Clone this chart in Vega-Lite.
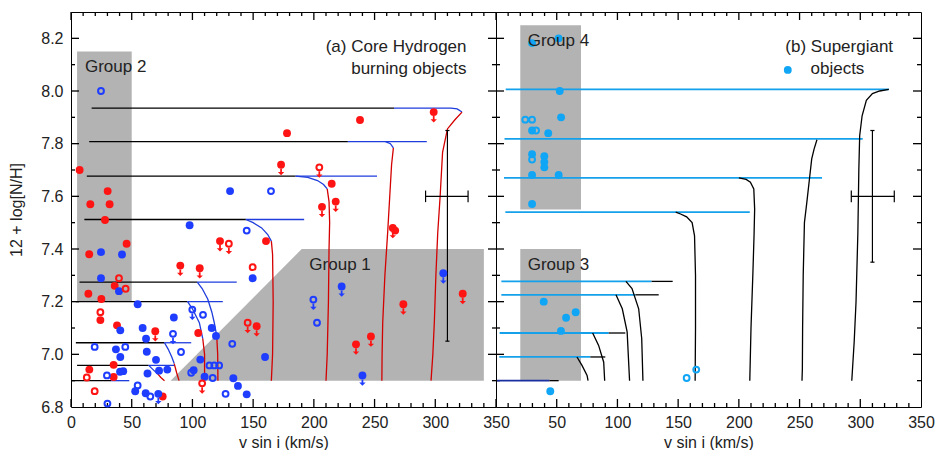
{
  "$schema": "https://vega.github.io/schema/vega-lite/v6.json",
  "padding": {"left": 8, "top": 10, "right": 16, "bottom": 0},
  "spacing": 0,
  "bounds": "flush",
  "config": {
    "view": {"stroke": "#000", "strokeWidth": 1},
    "axis": {"domain": false, "grid": false, "ticks": false, "tickSize": 0, "labelFont": "Liberation Sans", "titleFont": "Liberation Sans", "labelFontSize": 16, "titleFontSize": 16, "labelColor": "#222", "titleColor": "#222", "titleFontWeight": "normal", "labelOverlap": false, "labelFlush": false},
    "text": {"font": "Liberation Sans", "fontSize": 17, "color": "#222"}
  },
  "datasets": {
    "tk": [
      {"x": 0, "x2": 0, "y": 6.8, "y2": 6.8304}, {"x": 10, "x2": 10, "y": 6.8, "y2": 6.8152}, {"x": 20, "x2": 20, "y": 6.8, "y2": 6.8152}, {"x": 30, "x2": 30, "y": 6.8, "y2": 6.8152}, {"x": 40, "x2": 40, "y": 6.8, "y2": 6.8152},
      {"x": 50, "x2": 50, "y": 6.8, "y2": 6.8304}, {"x": 60, "x2": 60, "y": 6.8, "y2": 6.8152}, {"x": 70, "x2": 70, "y": 6.8, "y2": 6.8152}, {"x": 80, "x2": 80, "y": 6.8, "y2": 6.8152}, {"x": 90, "x2": 90, "y": 6.8, "y2": 6.8152},
      {"x": 100, "x2": 100, "y": 6.8, "y2": 6.8304}, {"x": 110, "x2": 110, "y": 6.8, "y2": 6.8152}, {"x": 120, "x2": 120, "y": 6.8, "y2": 6.8152}, {"x": 130, "x2": 130, "y": 6.8, "y2": 6.8152}, {"x": 140, "x2": 140, "y": 6.8, "y2": 6.8152},
      {"x": 150, "x2": 150, "y": 6.8, "y2": 6.8304}, {"x": 160, "x2": 160, "y": 6.8, "y2": 6.8152}, {"x": 170, "x2": 170, "y": 6.8, "y2": 6.8152}, {"x": 180, "x2": 180, "y": 6.8, "y2": 6.8152}, {"x": 190, "x2": 190, "y": 6.8, "y2": 6.8152},
      {"x": 200, "x2": 200, "y": 6.8, "y2": 6.8304}, {"x": 210, "x2": 210, "y": 6.8, "y2": 6.8152}, {"x": 220, "x2": 220, "y": 6.8, "y2": 6.8152}, {"x": 230, "x2": 230, "y": 6.8, "y2": 6.8152}, {"x": 240, "x2": 240, "y": 6.8, "y2": 6.8152},
      {"x": 250, "x2": 250, "y": 6.8, "y2": 6.8304}, {"x": 260, "x2": 260, "y": 6.8, "y2": 6.8152}, {"x": 270, "x2": 270, "y": 6.8, "y2": 6.8152}, {"x": 280, "x2": 280, "y": 6.8, "y2": 6.8152}, {"x": 290, "x2": 290, "y": 6.8, "y2": 6.8152},
      {"x": 300, "x2": 300, "y": 6.8, "y2": 6.8304}, {"x": 310, "x2": 310, "y": 6.8, "y2": 6.8152}, {"x": 320, "x2": 320, "y": 6.8, "y2": 6.8152}, {"x": 330, "x2": 330, "y": 6.8, "y2": 6.8152}, {"x": 340, "x2": 340, "y": 6.8, "y2": 6.8152},
      {"x": 0, "x2": 0, "y": 8.3, "y2": 8.2696}, {"x": 10, "x2": 10, "y": 8.3, "y2": 8.2848}, {"x": 20, "x2": 20, "y": 8.3, "y2": 8.2848}, {"x": 30, "x2": 30, "y": 8.3, "y2": 8.2848}, {"x": 40, "x2": 40, "y": 8.3, "y2": 8.2848},
      {"x": 50, "x2": 50, "y": 8.3, "y2": 8.2696}, {"x": 60, "x2": 60, "y": 8.3, "y2": 8.2848}, {"x": 70, "x2": 70, "y": 8.3, "y2": 8.2848}, {"x": 80, "x2": 80, "y": 8.3, "y2": 8.2848}, {"x": 90, "x2": 90, "y": 8.3, "y2": 8.2848},
      {"x": 100, "x2": 100, "y": 8.3, "y2": 8.2696}, {"x": 110, "x2": 110, "y": 8.3, "y2": 8.2848}, {"x": 120, "x2": 120, "y": 8.3, "y2": 8.2848}, {"x": 130, "x2": 130, "y": 8.3, "y2": 8.2848}, {"x": 140, "x2": 140, "y": 8.3, "y2": 8.2848},
      {"x": 150, "x2": 150, "y": 8.3, "y2": 8.2696}, {"x": 160, "x2": 160, "y": 8.3, "y2": 8.2848}, {"x": 170, "x2": 170, "y": 8.3, "y2": 8.2848}, {"x": 180, "x2": 180, "y": 8.3, "y2": 8.2848}, {"x": 190, "x2": 190, "y": 8.3, "y2": 8.2848},
      {"x": 200, "x2": 200, "y": 8.3, "y2": 8.2696}, {"x": 210, "x2": 210, "y": 8.3, "y2": 8.2848}, {"x": 220, "x2": 220, "y": 8.3, "y2": 8.2848}, {"x": 230, "x2": 230, "y": 8.3, "y2": 8.2848}, {"x": 240, "x2": 240, "y": 8.3, "y2": 8.2848},
      {"x": 250, "x2": 250, "y": 8.3, "y2": 8.2696}, {"x": 260, "x2": 260, "y": 8.3, "y2": 8.2848}, {"x": 270, "x2": 270, "y": 8.3, "y2": 8.2848}, {"x": 280, "x2": 280, "y": 8.3, "y2": 8.2848}, {"x": 290, "x2": 290, "y": 8.3, "y2": 8.2848},
      {"x": 300, "x2": 300, "y": 8.3, "y2": 8.2696}, {"x": 310, "x2": 310, "y": 8.3, "y2": 8.2848}, {"x": 320, "x2": 320, "y": 8.3, "y2": 8.2848}, {"x": 330, "x2": 330, "y": 8.3, "y2": 8.2848}, {"x": 340, "x2": 340, "y": 8.3, "y2": 8.2848},
      {"x": 0, "x2": 3.3, "y": 6.9, "y2": 6.9}, {"x": 0, "x2": 6.6, "y": 7.0, "y2": 7.0}, {"x": 0, "x2": 3.3, "y": 7.1, "y2": 7.1}, {"x": 0, "x2": 6.6, "y": 7.2, "y2": 7.2}, {"x": 0, "x2": 3.3, "y": 7.3, "y2": 7.3}, {"x": 0, "x2": 6.6, "y": 7.4, "y2": 7.4}, {"x": 0, "x2": 3.3, "y": 7.5, "y2": 7.5}, {"x": 0, "x2": 6.6, "y": 7.6, "y2": 7.6}, {"x": 0, "x2": 3.3, "y": 7.7, "y2": 7.7}, {"x": 0, "x2": 6.6, "y": 7.8, "y2": 7.8}, {"x": 0, "x2": 3.3, "y": 7.9, "y2": 7.9}, {"x": 0, "x2": 6.6, "y": 8.0, "y2": 8.0}, {"x": 0, "x2": 3.3, "y": 8.1, "y2": 8.1}, {"x": 0, "x2": 6.6, "y": 8.2, "y2": 8.2},
      {"x": 350, "x2": 346.7, "y": 6.9, "y2": 6.9}, {"x": 350, "x2": 343.4, "y": 7.0, "y2": 7.0}, {"x": 350, "x2": 346.7, "y": 7.1, "y2": 7.1}, {"x": 350, "x2": 343.4, "y": 7.2, "y2": 7.2}, {"x": 350, "x2": 346.7, "y": 7.3, "y2": 7.3}, {"x": 350, "x2": 343.4, "y": 7.4, "y2": 7.4}, {"x": 350, "x2": 346.7, "y": 7.5, "y2": 7.5}, {"x": 350, "x2": 343.4, "y": 7.6, "y2": 7.6}, {"x": 350, "x2": 346.7, "y": 7.7, "y2": 7.7}, {"x": 350, "x2": 343.4, "y": 7.8, "y2": 7.8}, {"x": 350, "x2": 346.7, "y": 7.9, "y2": 7.9}, {"x": 350, "x2": 343.4, "y": 8.0, "y2": 8.0}, {"x": 350, "x2": 346.7, "y": 8.1, "y2": 8.1}, {"x": 350, "x2": 343.4, "y": 8.2, "y2": 8.2}
    ],
    "g2": [{"x1": 5, "x2": 50, "y1": 7.2, "y2": 8.15}],
    "g1": [{"x": 82, "y": 6.9, "y0": 6.9}, {"x": 190, "y": 7.4, "y0": 6.9}, {"x": 340, "y": 7.4, "y0": 6.9}],
    "g34": [{"x1": 20, "x2": 70, "y1": 7.55, "y2": 8.25}, {"x1": 20, "x2": 70, "y1": 6.9, "y2": 7.4}],
    "errL": [
      {"x": 310, "x2": 310, "y": 7.05, "y2": 7.85}, {"x": 292, "x2": 327, "y": 7.6, "y2": 7.6},
      {"x": 292, "x2": 292, "y": 7.578, "y2": 7.622}, {"x": 327, "x2": 327, "y": 7.578, "y2": 7.622},
      {"x": 308.3, "x2": 311.7, "y": 7.85, "y2": 7.85}, {"x": 308.3, "x2": 311.7, "y": 7.05, "y2": 7.05}
    ],
    "errR": [
      {"x": 310, "x2": 310, "y": 7.35, "y2": 7.85}, {"x": 292.6, "x2": 328, "y": 7.6, "y2": 7.6},
      {"x": 292.6, "x2": 292.6, "y": 7.578, "y2": 7.622}, {"x": 328, "x2": 328, "y": 7.578, "y2": 7.622},
      {"x": 308.3, "x2": 311.7, "y": 7.85, "y2": 7.85}, {"x": 308.3, "x2": 311.7, "y": 7.35, "y2": 7.35}
    ],
    "trL": [
      {"s": "A1", "k": "k", "i": 0, "x": 17, "y": 7.935}, {"s": "A1", "k": "k", "i": 1, "x": 266, "y": 7.935},
      {"s": "A2", "k": "b", "i": 0, "x": 266, "y": 7.935}, {"s": "A2", "k": "b", "i": 1, "x": 313, "y": 7.935}, {"s": "A2", "k": "b", "i": 2, "x": 318, "y": 7.932}, {"s": "A2", "k": "b", "i": 3, "x": 322, "y": 7.92},
      {"s": "A3", "k": "r", "i": 0, "x": 322, "y": 7.92}, {"s": "A3", "k": "r", "i": 1, "x": 316, "y": 7.89}, {"s": "A3", "k": "r", "i": 2, "x": 310, "y": 7.856}, {"s": "A3", "k": "r", "i": 3, "x": 306, "y": 7.767}, {"s": "A3", "k": "r", "i": 4, "x": 304, "y": 7.6}, {"s": "A3", "k": "r", "i": 5, "x": 302, "y": 7.46}, {"s": "A3", "k": "r", "i": 6, "x": 300.5, "y": 7.3}, {"s": "A3", "k": "r", "i": 7, "x": 299.2, "y": 7.12}, {"s": "A3", "k": "r", "i": 8, "x": 298, "y": 7.0}, {"s": "A3", "k": "r", "i": 9, "x": 296.5, "y": 6.9},
      {"s": "B1", "k": "k", "i": 0, "x": 15, "y": 7.808}, {"s": "B1", "k": "k", "i": 1, "x": 228, "y": 7.808},
      {"s": "B2", "k": "b", "i": 0, "x": 228, "y": 7.808}, {"s": "B2", "k": "b", "i": 1, "x": 293, "y": 7.808},
      {"s": "B3", "k": "b", "i": 0, "x": 259, "y": 7.808}, {"s": "B3", "k": "b", "i": 1, "x": 263, "y": 7.8}, {"s": "B3", "k": "b", "i": 2, "x": 265.5, "y": 7.784},
      {"s": "B4", "k": "r", "i": 0, "x": 265.5, "y": 7.784}, {"s": "B4", "k": "r", "i": 1, "x": 264, "y": 7.72}, {"s": "B4", "k": "r", "i": 2, "x": 262.5, "y": 7.6}, {"s": "B4", "k": "r", "i": 3, "x": 260.8, "y": 7.464}, {"s": "B4", "k": "r", "i": 4, "x": 258.5, "y": 7.3}, {"s": "B4", "k": "r", "i": 5, "x": 256.7, "y": 7.12}, {"s": "B4", "k": "r", "i": 6, "x": 256.2, "y": 7.0}, {"s": "B4", "k": "r", "i": 7, "x": 256, "y": 6.9},
      {"s": "C1", "k": "k", "i": 0, "x": 13, "y": 7.677}, {"s": "C1", "k": "k", "i": 1, "x": 185, "y": 7.677},
      {"s": "C2", "k": "b", "i": 0, "x": 185, "y": 7.677}, {"s": "C2", "k": "b", "i": 1, "x": 252, "y": 7.677},
      {"s": "C3", "k": "b", "i": 0, "x": 185, "y": 7.677}, {"s": "C3", "k": "b", "i": 1, "x": 195, "y": 7.672}, {"s": "C3", "k": "b", "i": 2, "x": 203, "y": 7.66}, {"s": "C3", "k": "b", "i": 3, "x": 208, "y": 7.645}, {"s": "C3", "k": "b", "i": 4, "x": 211, "y": 7.628},
      {"s": "C4", "k": "r", "i": 0, "x": 211, "y": 7.628}, {"s": "C4", "k": "r", "i": 1, "x": 212.5, "y": 7.58}, {"s": "C4", "k": "r", "i": 2, "x": 213, "y": 7.5}, {"s": "C4", "k": "r", "i": 3, "x": 212.5, "y": 7.4}, {"s": "C4", "k": "r", "i": 4, "x": 212, "y": 7.2}, {"s": "C4", "k": "r", "i": 5, "x": 211, "y": 7.0}, {"s": "C4", "k": "r", "i": 6, "x": 210, "y": 6.9},
      {"s": "D1", "k": "k", "i": 0, "x": 11, "y": 7.512}, {"s": "D1", "k": "k", "i": 1, "x": 144, "y": 7.512},
      {"s": "D2", "k": "b", "i": 0, "x": 144, "y": 7.512}, {"s": "D2", "k": "b", "i": 1, "x": 192, "y": 7.512},
      {"s": "D3", "k": "b", "i": 0, "x": 144, "y": 7.512}, {"s": "D3", "k": "b", "i": 1, "x": 150, "y": 7.5}, {"s": "D3", "k": "b", "i": 2, "x": 157, "y": 7.48}, {"s": "D3", "k": "b", "i": 3, "x": 162, "y": 7.455}, {"s": "D3", "k": "b", "i": 4, "x": 165, "y": 7.43},
      {"s": "D4", "k": "r", "i": 0, "x": 165, "y": 7.43}, {"s": "D4", "k": "r", "i": 1, "x": 166, "y": 7.38}, {"s": "D4", "k": "r", "i": 2, "x": 166.5, "y": 7.2}, {"s": "D4", "k": "r", "i": 3, "x": 166, "y": 7.0}, {"s": "D4", "k": "r", "i": 4, "x": 165, "y": 6.9},
      {"s": "E1", "k": "k", "i": 0, "x": 7, "y": 7.274}, {"s": "E1", "k": "k", "i": 1, "x": 104, "y": 7.274},
      {"s": "E2", "k": "b", "i": 0, "x": 104, "y": 7.274}, {"s": "E2", "k": "b", "i": 1, "x": 136.5, "y": 7.274},
      {"s": "E3", "k": "b", "i": 0, "x": 104, "y": 7.274}, {"s": "E3", "k": "b", "i": 1, "x": 108, "y": 7.25}, {"s": "E3", "k": "b", "i": 2, "x": 112.6, "y": 7.21}, {"s": "E3", "k": "b", "i": 3, "x": 116, "y": 7.16}, {"s": "E3", "k": "b", "i": 4, "x": 118, "y": 7.12}, {"s": "E3", "k": "b", "i": 5, "x": 120, "y": 7.07},
      {"s": "E4", "k": "r", "i": 0, "x": 120, "y": 7.07}, {"s": "E4", "k": "r", "i": 1, "x": 120.8, "y": 7.0}, {"s": "E4", "k": "r", "i": 2, "x": 121, "y": 6.9},
      {"s": "F1", "k": "k", "i": 0, "x": 4, "y": 7.2}, {"s": "F1", "k": "k", "i": 1, "x": 96, "y": 7.2},
      {"s": "F2", "k": "b", "i": 0, "x": 96, "y": 7.2}, {"s": "F2", "k": "b", "i": 1, "x": 125, "y": 7.2},
      {"s": "F3", "k": "b", "i": 0, "x": 96, "y": 7.2}, {"s": "F3", "k": "b", "i": 1, "x": 100, "y": 7.173}, {"s": "F3", "k": "b", "i": 2, "x": 105.7, "y": 7.12}, {"s": "F3", "k": "b", "i": 3, "x": 108.5, "y": 7.06},
      {"s": "F4", "k": "r", "i": 0, "x": 108.5, "y": 7.06}, {"s": "F4", "k": "r", "i": 1, "x": 110, "y": 7.0}, {"s": "F4", "k": "r", "i": 2, "x": 110, "y": 6.9},
      {"s": "G1", "k": "k", "i": 0, "x": 4, "y": 7.044}, {"s": "G1", "k": "k", "i": 1, "x": 77, "y": 7.044},
      {"s": "G2", "k": "b", "i": 0, "x": 77, "y": 7.044}, {"s": "G2", "k": "b", "i": 1, "x": 99, "y": 7.044},
      {"s": "G3", "k": "b", "i": 0, "x": 77, "y": 7.044}, {"s": "G3", "k": "b", "i": 1, "x": 80, "y": 7.02}, {"s": "G3", "k": "b", "i": 2, "x": 83, "y": 6.99}, {"s": "G3", "k": "b", "i": 3, "x": 85, "y": 6.965},
      {"s": "G4", "k": "r", "i": 0, "x": 85, "y": 6.965}, {"s": "G4", "k": "r", "i": 1, "x": 87, "y": 6.93}, {"s": "G4", "k": "r", "i": 2, "x": 89, "y": 6.9},
      {"s": "H1", "k": "k", "i": 0, "x": 5, "y": 6.958}, {"s": "H1", "k": "k", "i": 1, "x": 64, "y": 6.958},
      {"s": "H2", "k": "b", "i": 0, "x": 64, "y": 6.958}, {"s": "H2", "k": "b", "i": 1, "x": 85, "y": 6.958},
      {"s": "H3", "k": "b", "i": 0, "x": 64, "y": 6.958}, {"s": "H3", "k": "b", "i": 1, "x": 68, "y": 6.94}, {"s": "H3", "k": "b", "i": 2, "x": 71.4, "y": 6.926},
      {"s": "H4", "k": "r", "i": 0, "x": 71.4, "y": 6.926}, {"s": "H4", "k": "r", "i": 1, "x": 74, "y": 6.912}, {"s": "H4", "k": "r", "i": 2, "x": 77, "y": 6.9},
      {"s": "I1", "k": "k", "i": 0, "x": 0, "y": 6.9}, {"s": "I1", "k": "k", "i": 1, "x": 33, "y": 6.9},
      {"s": "I2", "k": "b", "i": 0, "x": 33, "y": 6.9}, {"s": "I2", "k": "b", "i": 1, "x": 48, "y": 6.9}
    ],
    "trR": [
      {"s": "R1", "k": "c", "i": 0, "x": 8, "y": 8.006}, {"s": "R1", "k": "c", "i": 1, "x": 323.5, "y": 8.006},
      {"s": "R1k", "k": "k", "i": 0, "x": 323.5, "y": 8.006}, {"s": "R1k", "k": "k", "i": 1, "x": 316, "y": 8.0}, {"s": "R1k", "k": "k", "i": 2, "x": 310, "y": 7.99}, {"s": "R1k", "k": "k", "i": 3, "x": 305, "y": 7.965}, {"s": "R1k", "k": "k", "i": 4, "x": 301.5, "y": 7.906}, {"s": "R1k", "k": "k", "i": 5, "x": 299.5, "y": 7.83}, {"s": "R1k", "k": "k", "i": 6, "x": 298.8, "y": 7.7}, {"s": "R1k", "k": "k", "i": 7, "x": 298, "y": 7.46}, {"s": "R1k", "k": "k", "i": 8, "x": 296.5, "y": 7.2}, {"s": "R1k", "k": "k", "i": 9, "x": 295, "y": 7.05}, {"s": "R1k", "k": "k", "i": 10, "x": 293, "y": 6.9},
      {"s": "R2", "k": "c", "i": 0, "x": 7, "y": 7.818}, {"s": "R2", "k": "c", "i": 1, "x": 302, "y": 7.818},
      {"s": "R2k", "k": "k", "i": 0, "x": 264.3, "y": 7.815}, {"s": "R2k", "k": "k", "i": 1, "x": 262, "y": 7.78}, {"s": "R2k", "k": "k", "i": 2, "x": 260, "y": 7.742}, {"s": "R2k", "k": "k", "i": 3, "x": 258, "y": 7.66}, {"s": "R2k", "k": "k", "i": 4, "x": 256, "y": 7.578}, {"s": "R2k", "k": "k", "i": 5, "x": 254, "y": 7.5}, {"s": "R2k", "k": "k", "i": 6, "x": 253, "y": 7.3}, {"s": "R2k", "k": "k", "i": 7, "x": 252.5, "y": 7.1}, {"s": "R2k", "k": "k", "i": 8, "x": 252.3, "y": 6.945}, {"s": "R2k", "k": "k", "i": 9, "x": 252, "y": 6.9},
      {"s": "R3", "k": "c", "i": 0, "x": 6.6, "y": 7.67}, {"s": "R3", "k": "c", "i": 1, "x": 268.5, "y": 7.67},
      {"s": "R3k", "k": "k", "i": 0, "x": 200, "y": 7.67}, {"s": "R3k", "k": "k", "i": 1, "x": 206, "y": 7.664}, {"s": "R3k", "k": "k", "i": 2, "x": 209.5, "y": 7.654}, {"s": "R3k", "k": "k", "i": 3, "x": 212.3, "y": 7.628}, {"s": "R3k", "k": "k", "i": 4, "x": 213, "y": 7.552}, {"s": "R3k", "k": "k", "i": 5, "x": 212.5, "y": 7.45}, {"s": "R3k", "k": "k", "i": 6, "x": 211.5, "y": 7.3}, {"s": "R3k", "k": "k", "i": 7, "x": 210, "y": 7.1}, {"s": "R3k", "k": "k", "i": 8, "x": 209, "y": 6.9},
      {"s": "R4", "k": "c", "i": 0, "x": 7.7, "y": 7.54}, {"s": "R4", "k": "c", "i": 1, "x": 209, "y": 7.54},
      {"s": "R4k", "k": "k", "i": 0, "x": 148, "y": 7.54}, {"s": "R4k", "k": "k", "i": 1, "x": 152, "y": 7.533}, {"s": "R4k", "k": "k", "i": 2, "x": 157, "y": 7.522}, {"s": "R4k", "k": "k", "i": 3, "x": 161.5, "y": 7.5}, {"s": "R4k", "k": "k", "i": 4, "x": 163.5, "y": 7.45}, {"s": "R4k", "k": "k", "i": 5, "x": 164.3, "y": 7.3}, {"s": "R4k", "k": "k", "i": 6, "x": 164.3, "y": 7.1}, {"s": "R4k", "k": "k", "i": 7, "x": 164, "y": 6.9},
      {"s": "S1", "k": "c", "i": 0, "x": 4.4, "y": 7.277}, {"s": "S1", "k": "c", "i": 1, "x": 128.1, "y": 7.277},
      {"s": "S1b", "k": "k", "i": 0, "x": 128.1, "y": 7.277}, {"s": "S1b", "k": "k", "i": 1, "x": 145.5, "y": 7.277},
      {"s": "S1k", "k": "k", "i": 0, "x": 107, "y": 7.277}, {"s": "S1k", "k": "k", "i": 1, "x": 112, "y": 7.25}, {"s": "S1k", "k": "k", "i": 2, "x": 117.5, "y": 7.173}, {"s": "S1k", "k": "k", "i": 3, "x": 120, "y": 7.06}, {"s": "S1k", "k": "k", "i": 4, "x": 121, "y": 6.9},
      {"s": "S2", "k": "c", "i": 0, "x": 4.4, "y": 7.226}, {"s": "S2", "k": "c", "i": 1, "x": 114.8, "y": 7.226},
      {"s": "S2b", "k": "k", "i": 0, "x": 114.8, "y": 7.226}, {"s": "S2b", "k": "k", "i": 1, "x": 134, "y": 7.226},
      {"s": "S2k", "k": "k", "i": 0, "x": 98.8, "y": 7.226}, {"s": "S2k", "k": "k", "i": 1, "x": 104, "y": 7.173}, {"s": "S2k", "k": "k", "i": 2, "x": 108, "y": 7.085}, {"s": "S2k", "k": "k", "i": 3, "x": 110, "y": 6.9},
      {"s": "S3", "k": "c", "i": 0, "x": 3, "y": 7.081}, {"s": "S3", "k": "c", "i": 1, "x": 92.8, "y": 7.081},
      {"s": "S3b", "k": "k", "i": 0, "x": 92.8, "y": 7.081}, {"s": "S3b", "k": "k", "i": 1, "x": 106.5, "y": 7.081},
      {"s": "S3k", "k": "k", "i": 0, "x": 79.6, "y": 7.081}, {"s": "S3k", "k": "k", "i": 1, "x": 84.5, "y": 7.034}, {"s": "S3k", "k": "k", "i": 2, "x": 88.7, "y": 6.97}, {"s": "S3k", "k": "k", "i": 3, "x": 89.5, "y": 6.9},
      {"s": "S4", "k": "c", "i": 0, "x": 2.7, "y": 6.99}, {"s": "S4", "k": "c", "i": 1, "x": 77.7, "y": 6.99},
      {"s": "S4b", "k": "k", "i": 0, "x": 77.7, "y": 6.99}, {"s": "S4b", "k": "k", "i": 1, "x": 90, "y": 6.99},
      {"s": "S4k", "k": "k", "i": 0, "x": 66.7, "y": 6.99}, {"s": "S4k", "k": "k", "i": 1, "x": 70.8, "y": 6.958}, {"s": "S4k", "k": "k", "i": 2, "x": 75, "y": 6.92}, {"s": "S4k", "k": "k", "i": 3, "x": 75.8, "y": 6.9},
      {"s": "S5", "k": "n", "i": 0, "x": 0.8, "y": 6.9}, {"s": "S5", "k": "n", "i": 1, "x": 44, "y": 6.9},
      {"s": "S5b", "k": "k", "i": 0, "x": 44, "y": 6.9}, {"s": "S5b", "k": "k", "i": 1, "x": 51.6, "y": 6.9}
    ],
    "ptsL": [
      {"x": 7.1, "y": 7.7, "c": "r", "f": 1, "l": 0}, {"x": 30.2, "y": 7.62, "c": "r", "f": 1, "l": 0}, {"x": 15.9, "y": 7.57, "c": "r", "f": 1, "l": 0}, {"x": 31.8, "y": 7.57, "c": "r", "f": 1, "l": 0}, {"x": 28, "y": 7.51, "c": "r", "f": 1, "l": 0}, {"x": 45.8, "y": 7.42, "c": "r", "f": 1, "l": 0}, {"x": 15, "y": 7.38, "c": "r", "f": 1, "l": 0}, {"x": 36, "y": 7.26, "c": "r", "f": 1, "l": 0}, {"x": 14.3, "y": 7.23, "c": "r", "f": 1, "l": 0}, {"x": 25, "y": 7.21, "c": "r", "f": 1, "l": 0}, {"x": 24.2, "y": 7.13, "c": "r", "f": 1, "l": 0}, {"x": 37.9, "y": 7.11, "c": "r", "f": 1, "l": 0}, {"x": 35.1, "y": 6.96, "c": "r", "f": 1, "l": 0}, {"x": 15.1, "y": 6.942, "c": "r", "f": 1, "l": 0}, {"x": 35.1, "y": 6.914, "c": "r", "f": 1, "l": 0}, {"x": 75.5, "y": 6.84, "c": "r", "f": 1, "l": 0}, {"x": 104.8, "y": 7.081, "c": "r", "f": 1, "l": 0}, {"x": 214.7, "y": 7.648, "c": "r", "f": 1, "l": 0}, {"x": 160.6, "y": 7.43, "c": "r", "f": 1, "l": 0}, {"x": 238, "y": 7.89, "c": "r", "f": 1, "l": 0}, {"x": 177.9, "y": 7.84, "c": "r", "f": 1, "l": 0}, {"x": 267, "y": 7.47, "c": "r", "f": 1, "l": 0},
      {"x": 90, "y": 7.337, "c": "r", "f": 1, "l": 1}, {"x": 106, "y": 7.327, "c": "r", "f": 1, "l": 1}, {"x": 122.7, "y": 7.43, "c": "r", "f": 1, "l": 1}, {"x": 69.4, "y": 7.088, "c": "r", "f": 1, "l": 1}, {"x": 298.7, "y": 7.92, "c": "r", "f": 1, "l": 1}, {"x": 173, "y": 7.72, "c": "r", "f": 1, "l": 1}, {"x": 206.7, "y": 7.56, "c": "r", "f": 1, "l": 1}, {"x": 218, "y": 7.58, "c": "r", "f": 1, "l": 1}, {"x": 152.9, "y": 7.107, "c": "r", "f": 1, "l": 1}, {"x": 265, "y": 7.48, "c": "r", "f": 1, "l": 1}, {"x": 273.7, "y": 7.19, "c": "r", "f": 1, "l": 1}, {"x": 234.7, "y": 7.038, "c": "r", "f": 1, "l": 1}, {"x": 247, "y": 7.068, "c": "r", "f": 1, "l": 1}, {"x": 322.6, "y": 7.23, "c": "r", "f": 1, "l": 1},
      {"x": 39.5, "y": 7.289, "c": "r", "f": 0, "l": 0}, {"x": 45, "y": 7.249, "c": "r", "f": 0, "l": 0}, {"x": 24.2, "y": 7.16, "c": "r", "f": 0, "l": 0}, {"x": 13, "y": 6.912, "c": "r", "f": 0, "l": 0}, {"x": 19.5, "y": 6.86, "c": "r", "f": 0, "l": 0}, {"x": 149.6, "y": 7.331, "c": "r", "f": 0, "l": 0},
      {"x": 130, "y": 7.42, "c": "r", "f": 0, "l": 1}, {"x": 204.5, "y": 7.71, "c": "r", "f": 0, "l": 1}, {"x": 145.5, "y": 7.12, "c": "r", "f": 0, "l": 1}, {"x": 108, "y": 6.89, "c": "r", "f": 0, "l": 1},
      {"x": 131, "y": 7.62, "c": "b", "f": 1, "l": 0}, {"x": 97.7, "y": 7.49, "c": "b", "f": 1, "l": 0}, {"x": 24.7, "y": 7.388, "c": "b", "f": 1, "l": 0}, {"x": 42, "y": 7.379, "c": "b", "f": 1, "l": 0}, {"x": 24.7, "y": 7.289, "c": "b", "f": 1, "l": 0}, {"x": 39.5, "y": 7.24, "c": "b", "f": 1, "l": 0}, {"x": 54.9, "y": 7.19, "c": "b", "f": 1, "l": 0}, {"x": 84.7, "y": 7.14, "c": "b", "f": 1, "l": 0}, {"x": 40.6, "y": 7.091, "c": "b", "f": 1, "l": 0}, {"x": 59, "y": 7.1, "c": "b", "f": 1, "l": 0}, {"x": 61.8, "y": 7.059, "c": "b", "f": 1, "l": 0}, {"x": 37, "y": 7.019, "c": "b", "f": 1, "l": 0}, {"x": 40.6, "y": 6.99, "c": "b", "f": 1, "l": 0}, {"x": 62.4, "y": 7.01, "c": "b", "f": 1, "l": 0}, {"x": 70, "y": 6.979, "c": "b", "f": 1, "l": 0}, {"x": 40.4, "y": 6.934, "c": "b", "f": 1, "l": 0}, {"x": 43, "y": 6.936, "c": "b", "f": 1, "l": 0}, {"x": 63, "y": 6.927, "c": "b", "f": 1, "l": 0}, {"x": 72.5, "y": 6.938, "c": "b", "f": 1, "l": 0}, {"x": 79.3, "y": 6.942, "c": "b", "f": 1, "l": 0}, {"x": 52.9, "y": 6.86, "c": "b", "f": 1, "l": 0}, {"x": 61.5, "y": 6.852, "c": "b", "f": 1, "l": 0}, {"x": 137.5, "y": 6.88, "c": "b", "f": 1, "l": 0}, {"x": 133.7, "y": 6.909, "c": "b", "f": 1, "l": 0}, {"x": 106.5, "y": 6.98, "c": "b", "f": 1, "l": 0}, {"x": 101, "y": 6.94, "c": "b", "f": 1, "l": 0}, {"x": 110, "y": 6.915, "c": "b", "f": 1, "l": 0}, {"x": 115.9, "y": 7.1, "c": "b", "f": 1, "l": 0}, {"x": 119.4, "y": 7.07, "c": "b", "f": 1, "l": 0}, {"x": 149.6, "y": 7.289, "c": "b", "f": 1, "l": 0}, {"x": 159.8, "y": 6.99, "c": "b", "f": 1, "l": 0}, {"x": 144.7, "y": 6.848, "c": "b", "f": 1, "l": 0},
      {"x": 71.9, "y": 6.85, "c": "b", "f": 1, "l": 1}, {"x": 222.9, "y": 7.258, "c": "b", "f": 1, "l": 1}, {"x": 240, "y": 6.92, "c": "b", "f": 1, "l": 1}, {"x": 306.6, "y": 7.308, "c": "b", "f": 1, "l": 1},
      {"x": 24.7, "y": 8.0, "c": "b", "f": 0, "l": 0}, {"x": 164.7, "y": 7.62, "c": "b", "f": 0, "l": 0}, {"x": 144.7, "y": 7.47, "c": "b", "f": 0, "l": 0}, {"x": 19.5, "y": 7.028, "c": "b", "f": 0, "l": 0}, {"x": 44.7, "y": 7.028, "c": "b", "f": 0, "l": 0}, {"x": 90.6, "y": 7.009, "c": "b", "f": 0, "l": 0}, {"x": 29.6, "y": 6.92, "c": "b", "f": 0, "l": 0}, {"x": 54.9, "y": 6.882, "c": "b", "f": 0, "l": 0}, {"x": 65.3, "y": 6.84, "c": "b", "f": 0, "l": 0}, {"x": 30, "y": 6.813, "c": "b", "f": 0, "l": 0}, {"x": 127.3, "y": 6.85, "c": "b", "f": 0, "l": 0}, {"x": 108.7, "y": 7.15, "c": "b", "f": 0, "l": 0}, {"x": 132.8, "y": 7.04, "c": "b", "f": 0, "l": 0}, {"x": 202.6, "y": 7.12, "c": "b", "f": 0, "l": 0}, {"x": 114, "y": 6.958, "c": "b", "f": 0, "l": 0}, {"x": 118, "y": 6.958, "c": "b", "f": 0, "l": 0}, {"x": 122, "y": 6.958, "c": "b", "f": 0, "l": 0}, {"x": 116.7, "y": 6.91, "c": "b", "f": 0, "l": 0}, {"x": 99, "y": 6.93, "c": "b", "f": 0, "l": 0},
      {"x": 84, "y": 7.078, "c": "b", "f": 0, "l": 1}, {"x": 99.9, "y": 7.17, "c": "b", "f": 0, "l": 1}, {"x": 199.6, "y": 7.208, "c": "b", "f": 0, "l": 1}
    ],
    "ptsR": [
      {"x": 51.6, "y": 8.2, "c": "c", "f": 1}, {"x": 29.7, "y": 8.182, "c": "c", "f": 1}, {"x": 52.5, "y": 8.0, "c": "c", "f": 1}, {"x": 53.6, "y": 7.9, "c": "c", "f": 1}, {"x": 29.7, "y": 7.85, "c": "c", "f": 1}, {"x": 43, "y": 7.84, "c": "c", "f": 1}, {"x": 29.7, "y": 7.76, "c": "c", "f": 1}, {"x": 39.8, "y": 7.752, "c": "c", "f": 1}, {"x": 39.8, "y": 7.73, "c": "c", "f": 1}, {"x": 39.8, "y": 7.71, "c": "c", "f": 1}, {"x": 29.7, "y": 7.681, "c": "c", "f": 1}, {"x": 51.6, "y": 7.681, "c": "c", "f": 1}, {"x": 29.7, "y": 7.571, "c": "c", "f": 1}, {"x": 39.3, "y": 7.2, "c": "c", "f": 1}, {"x": 57.7, "y": 7.139, "c": "c", "f": 1}, {"x": 65.6, "y": 7.16, "c": "c", "f": 1}, {"x": 53.5, "y": 7.089, "c": "c", "f": 1}, {"x": 44.7, "y": 6.86, "c": "c", "f": 1},
      {"x": 24.1, "y": 7.891, "c": "c", "f": 0}, {"x": 29.7, "y": 7.891, "c": "c", "f": 0}, {"x": 33, "y": 7.85, "c": "c", "f": 0}, {"x": 29.7, "y": 7.74, "c": "c", "f": 0}, {"x": 157, "y": 6.91, "c": "c", "f": 0}, {"x": 164.9, "y": 6.942, "c": "c", "f": 0}
    ],
    "txtLr": [{"x": 325.7, "y": 8.166, "t": "(a) Core Hydrogen"}, {"x": 325.7, "y": 8.083, "t": "burning objects"}],
    "txtLl": [{"x": 11.5, "y": 8.093, "t": "Group 2"}, {"x": 196.3, "y": 7.34, "t": "Group 1"}],
    "txtR": [{"x": 26.1, "y": 8.19, "t": "Group 4"}, {"x": 26.1, "y": 7.34, "t": "Group 3"}, {"x": 238.3, "y": 8.166, "t": "(b) Supergiant"}, {"x": 259, "y": 8.083, "t": "objects"}],
    "legR": [{"x": 240.3, "y": 8.08, "c": "c"}]
  },
  "hconcat": [
    {
      "width": 425,
      "height": 395,
      "layer": [
        {
          "data": {"name": "g2"},
          "mark": {"type": "rect", "color": "#b3b3b3"},
          "encoding": {
            "x": {"field": "x1", "type": "quantitative", "scale": {"domain": [0, 350], "nice": false, "zero": false},
              "axis": {"orient": "bottom", "values": [0, 50, 100, 150, 200, 250, 300, 350], "format": "d", "labelPadding": 7.5, "title": "v sin i (km/s)", "titlePadding": 4}},
            "x2": {"field": "x2"},
            "y": {"field": "y1", "type": "quantitative", "scale": {"domain": [6.8, 8.3], "nice": false, "zero": false},
              "axis": {"orient": "left", "values": [6.8, 7.0, 7.2, 7.4, 7.6, 7.8, 8.0, 8.2], "format": ".1f", "labelPadding": 8, "title": "12 + log[N/H]", "titlePadding": 16}},
            "y2": {"field": "y2"}
          }
        },
        {
          "data": {"name": "g1"},
          "mark": {"type": "area", "color": "#b3b3b3", "opacity": 1},
          "encoding": {
            "x": {"field": "x", "type": "quantitative", "scale": {"domain": [0, 350], "nice": false, "zero": false}, "axis": null},
            "y": {"field": "y", "type": "quantitative", "scale": {"domain": [6.8, 8.3], "nice": false, "zero": false}, "axis": null},
            "y2": {"field": "y0"}
          }
        },
        {
          "mark": {"type": "rule", "color": "#000", "strokeDash": [1.5, 4.5], "strokeWidth": 1.2},
          "encoding": {"y": {"datum": 6.9, "type": "quantitative", "scale": {"domain": [6.8, 8.3], "nice": false, "zero": false}, "axis": null}}
        },
        {
          "data": {"name": "tk"},
          "mark": {"type": "rule", "color": "#000", "strokeWidth": 1.3},
          "encoding": {
            "x": {"field": "x", "type": "quantitative", "scale": {"domain": [0, 350], "nice": false, "zero": false}, "axis": null},
            "x2": {"field": "x2"},
            "y": {"field": "y", "type": "quantitative", "scale": {"domain": [6.8, 8.3], "nice": false, "zero": false}, "axis": null},
            "y2": {"field": "y2"}
          }
        },
        {
          "data": {"name": "trL"},
          "mark": {"type": "line", "strokeWidth": 1.3, "interpolate": "linear"},
          "encoding": {
            "x": {"field": "x", "type": "quantitative", "scale": {"domain": [0, 350], "nice": false, "zero": false}, "axis": null},
            "y": {"field": "y", "type": "quantitative", "scale": {"domain": [6.8, 8.3], "nice": false, "zero": false}, "axis": null},
            "detail": {"field": "s"},
            "order": {"field": "i", "type": "quantitative"},
            "stroke": {"field": "k", "type": "nominal", "scale": {"domain": ["k", "b", "r", "c", "n"], "range": ["#000000", "#1f3ddc", "#d40000", "#14a0ea", "#1a2fa0"]}, "legend": null}
          }
        },
        {
          "data": {"name": "errL"},
          "mark": {"type": "rule", "color": "#000", "strokeWidth": 1.2},
          "encoding": {
            "x": {"field": "x", "type": "quantitative", "scale": {"domain": [0, 350], "nice": false, "zero": false}, "axis": null},
            "x2": {"field": "x2"},
            "y": {"field": "y", "type": "quantitative", "scale": {"domain": [6.8, 8.3], "nice": false, "zero": false}, "axis": null},
            "y2": {"field": "y2"}
          }
        },
        {
          "data": {"name": "ptsL"},
          "transform": [{"filter": "datum.f == 1"}],
          "mark": {"type": "circle", "size": 62, "opacity": 1},
          "encoding": {
            "x": {"field": "x", "type": "quantitative", "scale": {"domain": [0, 350], "nice": false, "zero": false}, "axis": null},
            "y": {"field": "y", "type": "quantitative", "scale": {"domain": [6.8, 8.3], "nice": false, "zero": false}, "axis": null},
            "color": {"field": "c", "type": "nominal", "scale": {"domain": ["r", "b", "c"], "range": ["#ff1414", "#1f3dff", "#10a6f5"]}, "legend": null}
          }
        },
        {
          "data": {"name": "ptsL"},
          "transform": [{"filter": "datum.f == 0"}],
          "mark": {"type": "point", "shape": "circle", "filled": false, "strokeWidth": 2, "size": 34, "opacity": 1},
          "encoding": {
            "x": {"field": "x", "type": "quantitative", "scale": {"domain": [0, 350], "nice": false, "zero": false}, "axis": null},
            "y": {"field": "y", "type": "quantitative", "scale": {"domain": [6.8, 8.3], "nice": false, "zero": false}, "axis": null},
            "color": {"field": "c", "type": "nominal", "scale": {"domain": ["r", "b", "c"], "range": ["#ff1414", "#1f3dff", "#10a6f5"]}, "legend": null}
          }
        },
        {
          "data": {"name": "ptsL"},
          "transform": [{"filter": "datum.l == 1"}],
          "mark": {"type": "point", "shape": "M-0.22,1 L0.22,1 L0.22,1.8 L0.8,1.8 L0,2.6 L-0.8,1.8 L-0.22,1.8 Z", "filled": true, "size": 64, "opacity": 1},
          "encoding": {
            "x": {"field": "x", "type": "quantitative", "scale": {"domain": [0, 350], "nice": false, "zero": false}, "axis": null},
            "y": {"field": "y", "type": "quantitative", "scale": {"domain": [6.8, 8.3], "nice": false, "zero": false}, "axis": null},
            "color": {"field": "c", "type": "nominal", "scale": {"domain": ["r", "b", "c"], "range": ["#ff1414", "#1f3dff", "#10a6f5"]}, "legend": null}
          }
        },
        {
          "data": {"name": "txtLr"},
          "mark": {"type": "text", "align": "right", "baseline": "middle"},
          "encoding": {
            "x": {"field": "x", "type": "quantitative", "scale": {"domain": [0, 350], "nice": false, "zero": false}, "axis": null},
            "y": {"field": "y", "type": "quantitative", "scale": {"domain": [6.8, 8.3], "nice": false, "zero": false}, "axis": null},
            "text": {"field": "t"}
          }
        },
        {
          "data": {"name": "txtLl"},
          "mark": {"type": "text", "align": "left", "baseline": "middle"},
          "encoding": {
            "x": {"field": "x", "type": "quantitative", "scale": {"domain": [0, 350], "nice": false, "zero": false}, "axis": null},
            "y": {"field": "y", "type": "quantitative", "scale": {"domain": [6.8, 8.3], "nice": false, "zero": false}, "axis": null},
            "text": {"field": "t"}
          }
        }
      ],
      "resolve": {"axis": {"x": "independent", "y": "independent"}}
    },
    {
      "width": 425,
      "height": 395,
      "layer": [
        {
          "data": {"name": "g34"},
          "mark": {"type": "rect", "color": "#b3b3b3"},
          "encoding": {
            "x": {"field": "x1", "type": "quantitative", "scale": {"domain": [0, 350], "nice": false, "zero": false},
              "axis": {"orient": "bottom", "values": [50, 100, 150, 200, 250, 300, 350], "format": "d", "labelPadding": 7.5, "title": "v sin i (km/s)", "titlePadding": 4}},
            "x2": {"field": "x2"},
            "y": {"field": "y1", "type": "quantitative", "scale": {"domain": [6.8, 8.3], "nice": false, "zero": false}, "axis": null},
            "y2": {"field": "y2"}
          }
        },
        {
          "mark": {"type": "rule", "color": "#000", "strokeDash": [1.5, 4.5], "strokeWidth": 1.2},
          "encoding": {"y": {"datum": 6.9, "type": "quantitative", "scale": {"domain": [6.8, 8.3], "nice": false, "zero": false}, "axis": null}}
        },
        {
          "data": {"name": "tk"},
          "mark": {"type": "rule", "color": "#000", "strokeWidth": 1.3},
          "encoding": {
            "x": {"field": "x", "type": "quantitative", "scale": {"domain": [0, 350], "nice": false, "zero": false}, "axis": null},
            "x2": {"field": "x2"},
            "y": {"field": "y", "type": "quantitative", "scale": {"domain": [6.8, 8.3], "nice": false, "zero": false}, "axis": null},
            "y2": {"field": "y2"}
          }
        },
        {
          "data": {"name": "trR"},
          "transform": [{"filter": "datum.k != 'k'"}],
          "mark": {"type": "line", "strokeWidth": 1.8, "interpolate": "linear"},
          "encoding": {
            "x": {"field": "x", "type": "quantitative", "scale": {"domain": [0, 350], "nice": false, "zero": false}, "axis": null},
            "y": {"field": "y", "type": "quantitative", "scale": {"domain": [6.8, 8.3], "nice": false, "zero": false}, "axis": null},
            "detail": {"field": "s"},
            "order": {"field": "i", "type": "quantitative"},
            "stroke": {"field": "k", "type": "nominal", "scale": {"domain": ["k", "b", "r", "c", "n"], "range": ["#000000", "#1f3ddc", "#d40000", "#14a0ea", "#1a2fa0"]}, "legend": null}
          }
        },
        {
          "data": {"name": "trR"},
          "transform": [{"filter": "datum.k == 'k'"}],
          "mark": {"type": "line", "strokeWidth": 1.3, "interpolate": "linear"},
          "encoding": {
            "x": {"field": "x", "type": "quantitative", "scale": {"domain": [0, 350], "nice": false, "zero": false}, "axis": null},
            "y": {"field": "y", "type": "quantitative", "scale": {"domain": [6.8, 8.3], "nice": false, "zero": false}, "axis": null},
            "detail": {"field": "s"},
            "order": {"field": "i", "type": "quantitative"},
            "stroke": {"field": "k", "type": "nominal", "scale": {"domain": ["k", "b", "r", "c", "n"], "range": ["#000000", "#1f3ddc", "#d40000", "#14a0ea", "#1a2fa0"]}, "legend": null}
          }
        },
        {
          "data": {"name": "errR"},
          "mark": {"type": "rule", "color": "#000", "strokeWidth": 1.2},
          "encoding": {
            "x": {"field": "x", "type": "quantitative", "scale": {"domain": [0, 350], "nice": false, "zero": false}, "axis": null},
            "x2": {"field": "x2"},
            "y": {"field": "y", "type": "quantitative", "scale": {"domain": [6.8, 8.3], "nice": false, "zero": false}, "axis": null},
            "y2": {"field": "y2"}
          }
        },
        {
          "data": {"name": "ptsR"},
          "transform": [{"filter": "datum.f == 1"}],
          "mark": {"type": "circle", "size": 62, "opacity": 1},
          "encoding": {
            "x": {"field": "x", "type": "quantitative", "scale": {"domain": [0, 350], "nice": false, "zero": false}, "axis": null},
            "y": {"field": "y", "type": "quantitative", "scale": {"domain": [6.8, 8.3], "nice": false, "zero": false}, "axis": null},
            "color": {"field": "c", "type": "nominal", "scale": {"domain": ["r", "b", "c"], "range": ["#ff1414", "#1f3dff", "#10a6f5"]}, "legend": null}
          }
        },
        {
          "data": {"name": "ptsR"},
          "transform": [{"filter": "datum.f == 0"}],
          "mark": {"type": "point", "shape": "circle", "filled": false, "strokeWidth": 2, "size": 34, "opacity": 1},
          "encoding": {
            "x": {"field": "x", "type": "quantitative", "scale": {"domain": [0, 350], "nice": false, "zero": false}, "axis": null},
            "y": {"field": "y", "type": "quantitative", "scale": {"domain": [6.8, 8.3], "nice": false, "zero": false}, "axis": null},
            "color": {"field": "c", "type": "nominal", "scale": {"domain": ["r", "b", "c"], "range": ["#ff1414", "#1f3dff", "#10a6f5"]}, "legend": null}
          }
        },
        {
          "data": {"name": "legR"},
          "mark": {"type": "circle", "size": 62, "opacity": 1},
          "encoding": {
            "x": {"field": "x", "type": "quantitative", "scale": {"domain": [0, 350], "nice": false, "zero": false}, "axis": null},
            "y": {"field": "y", "type": "quantitative", "scale": {"domain": [6.8, 8.3], "nice": false, "zero": false}, "axis": null},
            "color": {"field": "c", "type": "nominal", "scale": {"domain": ["r", "b", "c"], "range": ["#ff1414", "#1f3dff", "#10a6f5"]}, "legend": null}
          }
        },
        {
          "data": {"name": "txtR"},
          "mark": {"type": "text", "align": "left", "baseline": "middle"},
          "encoding": {
            "x": {"field": "x", "type": "quantitative", "scale": {"domain": [0, 350], "nice": false, "zero": false}, "axis": null},
            "y": {"field": "y", "type": "quantitative", "scale": {"domain": [6.8, 8.3], "nice": false, "zero": false}, "axis": null},
            "text": {"field": "t"}
          }
        }
      ],
      "resolve": {"axis": {"x": "independent", "y": "independent"}}
    }
  ]
}
